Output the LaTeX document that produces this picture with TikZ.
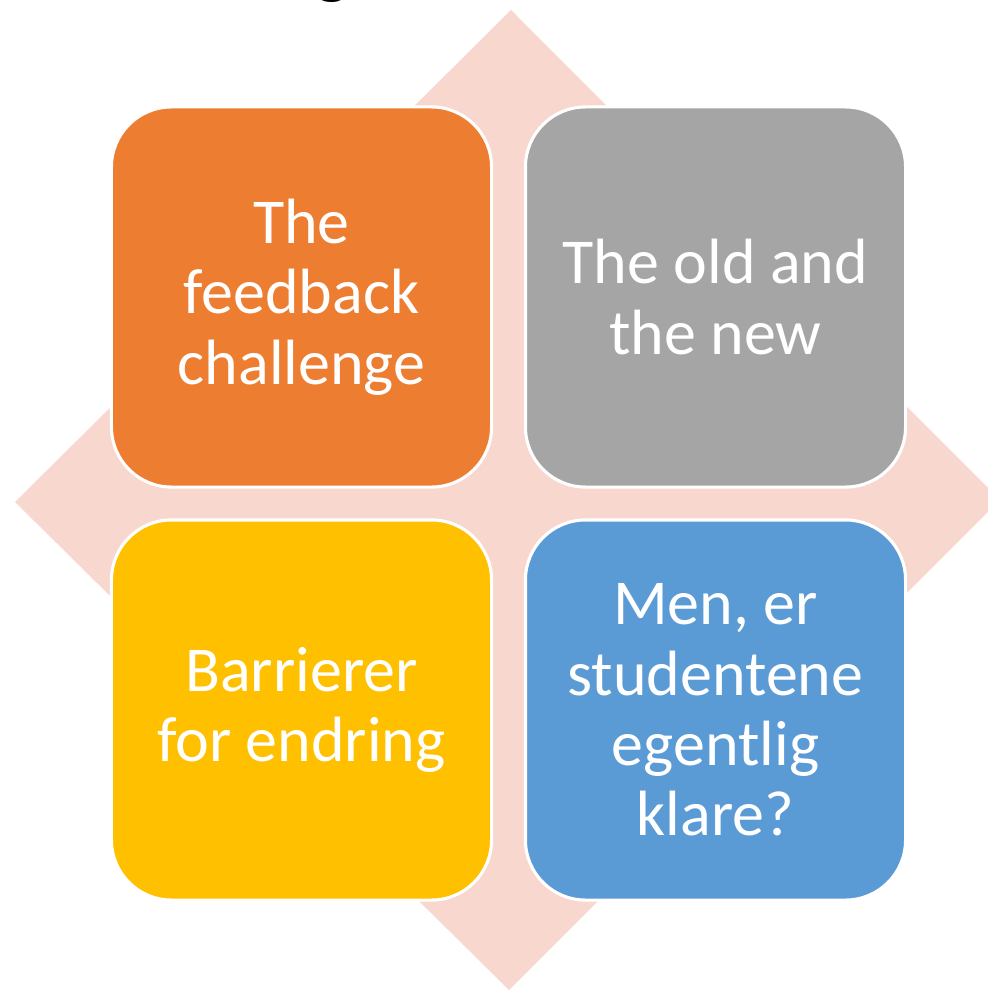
\documentclass[tikz,border=0pt]{standalone}
\usepackage{fontspec}
\newfontfamily\carlito{Carlito}
\definecolor{petal}{HTML}{F8D8CE}
\definecolor{tileorange}{HTML}{ED7D31}
\definecolor{tilegray}{HTML}{A5A5A5}
\definecolor{tileyellow}{HTML}{FFC000}
\definecolor{tileblue}{HTML}{5B9BD5}
\tikzset{
  tile/.style={rectangle, rounded corners=1.5cm, draw=white, line width=2.2pt,
    minimum width=9.5cm, minimum height=9.5cm, inner sep=0pt,
    text=white, align=center, font=\carlito\fontsize{45.5}{50}\selectfont},
}
\begin{document}
\begin{tikzpicture}[x=0.025cm,y=-0.025cm]
      \useasboundingbox (0,0) rectangle (987,991);
      % cut-off title above the picture
      \begin{scope}
        \clip (0,0) rectangle (987,991);
        \node[anchor=south, inner sep=0pt, font=\carlito\fontsize{54}{54}\selectfont] (title) at (332,3) {g};
      \end{scope}
      \fill[petal] (511,10) -- (1000,500) -- (509,990) -- (15,502) -- cycle;
      \draw
        (301.5,297) node[tile, fill=tileorange] (fb) {The\\feedback\\challenge}
        (715.5,297) node[tile, fill=tilegray] (on) {The old and\\the new}
        (301.5,710) node[tile, fill=tileyellow] (br) {Barrierer\\for endring}
        (715.5,710) node[tile, fill=tileblue] (st) {Men, er\\studentene\\egentlig\\klare?};
    \end{tikzpicture}
\end{document}
